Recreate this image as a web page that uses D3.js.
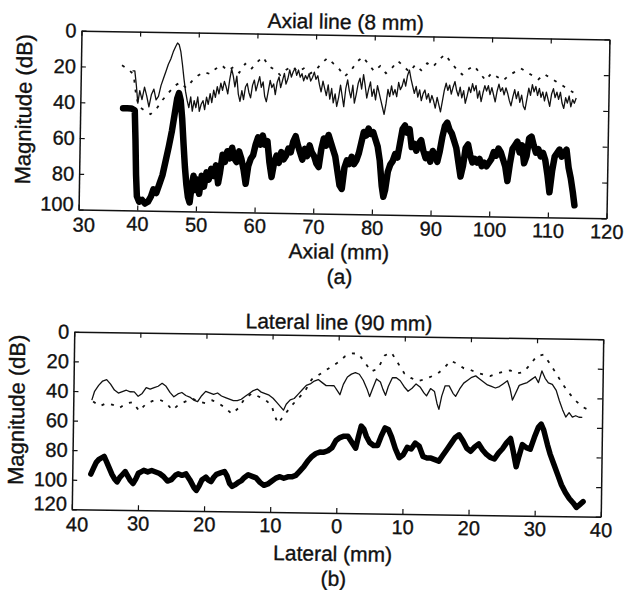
<!DOCTYPE html>
<html>
<head>
<meta charset="utf-8">
<script src="https://d3js.org/d3.v7.min.js"></script>
<title>Axial / lateral line</title>
<style>
  body { margin: 0; background: #fff; }
  text { font-family: "Liberation Sans", Arial, sans-serif; fill: #111; stroke: #111; stroke-width: 0.35px; }
</style>
</head>
<body>
<div id="container"></div>
<script>
// tick values
var axialTicksX = [30, 40, 50, 60, 70, 80, 90, 100, 110, 120];
var axialTicksY = [0, 20, 40, 60, 80, 100];
var lateralTicksX = [-40, -30, -20, -10, 0, 10, 20, 30, 40];
var lateralTicksY = [0, 20, 40, 60, 80, 100, 120];

// (a) axial line, [mm, dB]
var axialThin = [[38.8,22],[39.2,22],[39.5,30],[39.8,40],[40.1,33],[40.5,38],[40.9,31],[41.3,36],[41.7,42],[42.1,35],[42.5,32],[42.9,38],[43.3,36],[43.7,30],[44.1,26],[44.5,22],[44.9,18],[45.3,15],[45.7,11],[46.1,8],[46.4,6],[46.7,7],[47,11],[47.3,18],[47.6,26],[47.9,33],[48.2,38],[48.5,42],[48.8,36],[49.1,44],[49.4,38],[49.7,42],[50,36],[50.3,44],[50.6,40],[50.9,38],[51.2,43],[51.5,36],[51.8,40],[52.1,34],[52.4,39],[52.7,32],[53,36],[53.3,30],[53.6,34],[53.9,28],[54.2,32],[54.5,27],[54.8,30],[55.1,34],[55.4,26],[55.7,20],[56,24],[56.3,30],[56.6,24],[56.9,34],[57.2,38],[57.5,32],[57.8,37],[58.1,30],[58.4,28],[58.7,33],[59,36],[59.3,29],[59.6,26],[59.9,32],[60.2,28],[60.5,24],[60.8,30],[61.1,27],[61.4,35],[61.7,38],[62,32],[62.3,26],[62.6,30],[62.9,28],[63.2,34],[63.5,27],[63.8,24],[64.1,30],[64.4,26],[64.7,22],[65,28],[65.3,25],[65.6,20],[65.9,24],[66.2,21],[66.5,19],[66.8,23],[67.1,20],[67.4,24],[67.7,22],[68,26],[68.3,23],[68.6,25],[68.9,22],[69.2,26],[69.5,24],[69.8,21],[70.1,25],[70.4,23],[70.7,28],[71,32],[71.3,26],[71.6,30],[71.9,34],[72.2,28],[72.5,36],[72.8,30],[73.1,38],[73.4,33],[73.7,40],[74,35],[74.3,28],[74.6,34],[74.9,40],[75.2,30],[75.5,25],[75.8,31],[76.1,35],[76.4,28],[76.7,38],[77,33],[77.3,27],[77.6,24],[77.9,30],[78.2,22],[78.5,28],[78.8,35],[79.1,30],[79.4,26],[79.7,34],[80,30],[80.3,36],[80.6,28],[80.9,32],[81.2,36],[81.5,40],[81.8,44],[82.1,38],[82.4,30],[82.7,34],[83,28],[83.3,33],[83.6,30],[83.9,34],[84.2,26],[84.5,30],[84.8,28],[85.1,24],[85.4,28],[85.7,22],[86,19],[86.3,24],[86.6,28],[86.9,32],[87.2,28],[87.5,34],[87.8,30],[88.1,36],[88.4,32],[88.7,30],[89,35],[89.3,32],[89.6,37],[89.9,33],[90.2,36],[90.5,40],[90.8,34],[91.1,38],[91.4,42],[91.7,36],[92,30],[92.3,26],[92.6,30],[92.9,27],[93.2,32],[93.5,28],[93.8,25],[94.1,30],[94.4,33],[94.7,28],[95,34],[95.3,30],[95.6,37],[95.9,33],[96.2,28],[96.5,31],[96.8,26],[97.1,30],[97.4,27],[97.7,34],[98,30],[98.3,36],[98.6,31],[98.9,27],[99.2,30],[99.5,27],[99.8,32],[100.1,28],[100.4,32],[100.7,36],[101,30],[101.3,26],[101.6,30],[101.9,28],[102.2,32],[102.5,28],[102.8,31],[103.1,35],[103.4,38],[103.7,33],[104,29],[104.3,34],[104.6,30],[104.9,36],[105.2,32],[105.5,38],[105.8,40],[106.1,34],[106.4,28],[106.7,32],[107,26],[107.3,30],[107.6,27],[107.9,32],[108.2,28],[108.5,33],[108.8,30],[109.1,35],[109.4,30],[109.7,34],[110,38],[110.3,31],[110.6,28],[110.9,33],[111.2,30],[111.5,34],[111.8,30],[112.1,36],[112.4,39],[112.7,33],[113,36],[113.3,32],[113.6,38],[113.9,34],[114.2,36],[114.5,33]];
var axialDotted = [[37,19],[38,21],[39,24],[39.5,36],[40,42],[41,44],[42,46],[43,43],[44,38],[45,34],[46,30],[47,28],[48,31],[49,27],[50,24],[51,22],[52,23],[53,20],[54,18],[55,21],[56,19],[57,22],[58,17],[59,20],[60,16],[61,13],[62,18],[63,20],[64,23],[65,20],[66,18],[67,21],[68,19],[69,22],[70,20],[71,16],[72,13],[73,16],[74,19],[75,23],[76,20],[77,15],[78,12],[79,16],[80,20],[81,17],[82,21],[83,18],[84,14],[85,17],[86,20],[87,16],[88,19],[89,15],[90,17],[91,13],[92,10],[93,14],[94,18],[95,21],[96,18],[97,16],[98,20],[99,24],[100,20],[101,22],[102,24],[103,21],[104,19],[105,17],[106,19],[107,21],[108,23],[109,20],[110,22],[111,24],[112,26],[113,28],[114,30]];
var axialBold = [[37.3,43],[38,43],[38.7,43],[39.3,44],[39.5,60],[39.7,80],[39.9,92],[40.3,95],[40.8,94],[41.3,96],[41.8,95],[42.3,92],[42.7,88],[43.2,90],[43.7,85],[44.2,80],[44.7,72],[45.2,64],[45.7,55],[46.1,46],[46.5,37],[46.8,34],[47.1,38],[47.4,48],[47.7,62],[48,75],[48.3,85],[48.6,92],[48.9,95],[49.2,86],[49.5,80],[49.8,88],[50.1,82],[50.5,90],[50.9,80],[51.3,86],[51.7,78],[52.1,82],[52.5,76],[52.9,80],[53.3,74],[53.7,84],[54,78],[54.4,68],[54.8,72],[55.2,66],[55.6,70],[56,64],[56.4,70],[56.8,72],[57.2,66],[57.6,70],[58,76],[58.4,84],[58.8,74],[59.2,70],[59.6,68],[60,62],[60.4,58],[60.8,62],[61.2,57],[61.6,62],[62,60],[62.4,72],[62.8,80],[63.2,72],[63.6,68],[64,72],[64.4,66],[64.8,70],[65.2,68],[65.6,64],[66,66],[66.4,60],[66.8,57],[67.2,62],[67.6,66],[68,70],[68.4,64],[68.8,68],[69.2,62],[69.6,66],[70,68],[70.4,72],[70.8,74],[71.2,64],[71.6,58],[72,62],[72.4,56],[72.8,60],[73.2,64],[73.6,68],[74,76],[74.4,84],[74.8,86],[75.2,74],[75.6,70],[76,72],[76.4,68],[76.8,72],[77.2,70],[77.6,66],[78,60],[78.4,54],[78.8,56],[79.2,52],[79.6,55],[80,54],[80.4,58],[80.8,62],[81.2,70],[81.6,84],[81.9,90],[82.2,86],[82.6,76],[83,72],[83.4,70],[83.8,66],[84.2,68],[84.6,60],[85,52],[85.4,50],[85.8,54],[86.2,52],[86.6,62],[87,60],[87.4,64],[87.8,60],[88.2,58],[88.6,64],[89,68],[89.4,66],[89.8,70],[90.2,64],[90.6,66],[91,70],[91.4,64],[91.8,56],[92.2,50],[92.6,48],[93,52],[93.4,54],[93.8,58],[94.2,62],[94.6,70],[95,78],[95.4,72],[95.8,62],[96.2,60],[96.6,66],[97,70],[97.4,68],[97.8,70],[98.2,68],[98.6,72],[99,70],[99.4,72],[99.8,70],[100.2,68],[100.6,64],[101,66],[101.4,62],[101.8,64],[102.2,68],[102.6,72],[103,80],[103.4,70],[103.8,62],[104.2,60],[104.6,58],[105,64],[105.4,60],[105.8,70],[106.2,66],[106.6,56],[107,55],[107.4,60],[107.8,64],[108.2,62],[108.6,66],[109,64],[109.4,68],[109.8,76],[110.2,86],[110.6,74],[111,66],[111.4,64],[111.8,62],[112.2,66],[112.6,64],[113,62],[113.4,72],[113.8,78],[114.2,86],[114.5,93]];

// (b) lateral line, [mm, dB]
var lateralThin = [[-37.2,46],[-36.8,40],[-36.2,36],[-35.6,33],[-35,32],[-34.4,35],[-33.8,39],[-33.2,41],[-32.6,40],[-32,39],[-31.4,40],[-30.8,40],[-30.2,43],[-29.6,41],[-29,37],[-28.4,38],[-27.8,37],[-27.2,36],[-26.6,34],[-26,36],[-25.4,40],[-24.8,43],[-24.2,41],[-23.6,40],[-23,42],[-22.4,43],[-21.8,45],[-21.2,46],[-20.6,42],[-20,39],[-19.4,40],[-18.8,41],[-18.2,40],[-17.6,42],[-17,43],[-16.4,44],[-15.8,45],[-15.2,45],[-14.6,44],[-14,42],[-13.4,40],[-12.8,38],[-12.2,37],[-11.6,39],[-11,40],[-10.4,41],[-9.8,43],[-9.2,46],[-8.6,49],[-8.2,51],[-7.8,47],[-7.2,44],[-6.6,43],[-6,40],[-5.4,37],[-4.8,34],[-4.2,33],[-3.6,31],[-3,30],[-2.4,32],[-1.8,34],[-1.2,34],[-0.6,34],[0,38],[0.3,40],[0.8,33],[1.4,28],[2,26],[2.6,25],[3.2,26],[3.8,30],[4.4,36],[4.8,41],[5.2,36],[5.8,29],[6.4,31],[6.8,36],[7.2,40],[7.6,34],[8.2,28],[8.8,28],[9.4,30],[10,34],[10.6,37],[11.2,35],[11.8,32],[12.4,34],[13,38],[13.4,40],[14,35],[14.6,37],[15,45],[15.3,49],[15.7,40],[16.2,33],[16.8,33],[17.4,38],[17.8,40],[18.4,35],[19,31],[19.6,29],[20.2,27],[20.8,26],[21.4,28],[22,30],[22.6,32],[23.2,33],[23.8,34],[24.4,33],[25,31],[25.6,29],[26,34],[26.4,42],[26.8,38],[27.4,32],[28,31],[28.6,30],[29.2,28],[29.8,26],[30.3,30],[30.8,22],[31.3,27],[31.8,30],[32.4,31],[33,35],[33.5,42],[34,48],[34.5,53],[35,50],[35.5,53],[36,52],[36.5,53],[37,53]];
var lateralDotted = [[-37,47],[-36,50],[-35,48],[-34,49],[-33,51],[-32,48],[-31,47],[-30,53],[-29,48],[-28,46],[-27,45],[-26,47],[-25,52],[-24,48],[-23,46],[-22,44],[-21,46],[-20,47],[-19,45],[-18,47],[-17,50],[-16,54],[-15,50],[-14,43],[-13,40],[-12,42],[-11,44],[-10,48],[-9.5,55],[-9,60],[-8.5,57],[-8,54],[-7,48],[-6,43],[-5,38],[-4,30],[-3,27],[-2,24],[-1,21],[0,18],[1,14],[2,12],[3,12],[4,18],[5,24],[6,22],[7,13],[8,11],[9,18],[10,25],[11,28],[12,30],[13,29],[14,27],[15,25],[16,21],[17,16],[18,18],[19,21],[20,22],[21,24],[22,25],[23,26],[24,24],[25,23],[26,22],[27,24],[28,23],[29,18],[30,12],[31,11],[32,17],[33,24],[34,31],[35,37],[36,42],[37,46],[38,48]];
var lateralBold = [[-37.2,96],[-36.8,92],[-36.4,88],[-36,86],[-35.6,85],[-35.2,84],[-34.8,88],[-34.4,92],[-34,96],[-33.6,99],[-33.2,101],[-32.8,98],[-32.4,96],[-32,94],[-31.6,97],[-31.2,100],[-30.8,102],[-30.4,99],[-30,95],[-29.6,94],[-29.2,93],[-28.6,94],[-28,93],[-27.4,94],[-26.8,95],[-26.2,97],[-25.6,100],[-25,99],[-24.4,96],[-24,95],[-23.4,96],[-22.8,95],[-22.2,99],[-21.6,104],[-21.2,106],[-20.8,103],[-20.4,99],[-19.8,97],[-19.4,99],[-19,100],[-18.6,97],[-18.2,95],[-17.6,94],[-17,93],[-16.6,96],[-16.2,101],[-15.8,103],[-15.4,102],[-14.8,100],[-14.4,99],[-14,97],[-13.4,95],[-12.8,96],[-12.2,97],[-11.6,100],[-11,102],[-10.4,101],[-9.8,99],[-9.2,97],[-8.6,96],[-8,97],[-7.4,96],[-6.8,96],[-6.2,95],[-5.6,92],[-5,89],[-4.4,85],[-3.8,82],[-3.2,80],[-2.6,79],[-2,79],[-1.4,78],[-0.8,76],[-0.2,71],[0.4,69],[1,68],[1.6,68],[2.2,72],[2.8,76],[3.2,68],[3.6,61],[4,63],[4.4,68],[4.9,72],[5.5,74],[6.1,74],[6.6,68],[7.2,62],[7.7,63],[8.2,68],[8.8,76],[9.4,82],[10,80],[10.6,75],[11.2,76],[11.8,72],[12.4,74],[13,81],[13.6,82],[14.2,82],[14.8,83],[15.4,84],[16,80],[16.6,76],[17.2,72],[17.8,68],[18.4,66],[19,70],[19.6,75],[20.2,77],[20.8,74],[21.4,72],[22,76],[22.6,79],[23.2,81],[23.8,82],[24.4,78],[25,75],[25.6,71],[26.2,68],[26.6,76],[27.1,87],[27.5,80],[28,72],[28.6,74],[29.2,75],[29.8,67],[30.4,60],[30.8,58],[31.2,62],[31.8,72],[32.2,78],[32.8,85],[33.4,92],[34,99],[34.6,104],[35.2,108],[35.8,111],[36.3,114],[36.8,112],[37.3,110]];

var svg_width = 627, svg_height = 590;

var svg = d3.select("#container")
  .append("svg")
  .attr("width", svg_width)
  .attr("height", svg_height);

function drawPanel(p) {
  var cx = p.left + p.width / 2, cy = p.top + p.height / 2;
  // the scan is slightly tilted
  var g = svg.append("g").attr("transform", `rotate(${p.angle},${cx},${cy})`);

  var x = d3.scaleLinear().domain(d3.extent(p.xTicks)).range([p.left, p.left + p.width]);
  var y = d3.scaleLinear().domain(d3.extent(p.yTicks)).range([p.top, p.top + p.height]);

  var line = d3.line().x(d => x(d[0])).y(d => y(d[1]));

  g.append("path").datum(p.dotted)
    .attr("d", line).attr("fill", "none").attr("stroke", "#111")
    .attr("stroke-width", 1.8).attr("stroke-dasharray", "3,7");
  g.append("path").datum(p.thin)
    .attr("d", line).attr("fill", "none").attr("stroke", "#111")
    .attr("stroke-width", 1.3).attr("stroke-linejoin", "round");
  g.append("path").datum(p.bold)
    .attr("d", line).attr("fill", "none").attr("stroke", "#000")
    .attr("stroke-width", p.boldWidth).attr("stroke-linejoin", "round").attr("stroke-linecap", "round");

  // box with inward ticks on all sides
  var fmt = p.xFormat || d3.format("d");
  var axes = [
    [d3.axisBottom(x).tickValues(p.xTicks).tickFormat(fmt).tickPadding(6), `translate(0,${p.top + p.height})`],
    [d3.axisTop(x).tickValues(p.xTicks).tickFormat(""), `translate(0,${p.top})`],
    [d3.axisLeft(y).tickValues(p.yTicks).tickFormat(d3.format("d")).tickPadding(5), `translate(${p.left},0)`],
    [d3.axisRight(y).tickValues(p.yTicks).tickFormat(""), `translate(${p.left + p.width},0)`]
  ];
  var axisGroups = axes.map(function (a) {
    var ax = g.append("g").attr("transform", a[1])
      .call(a[0].tickSizeInner(-5).tickSizeOuter(0));
    ax.attr("font-family", null).attr("font-size", 20);
    ax.select(".domain").attr("stroke", "#111").attr("stroke-width", 1.5);
    ax.selectAll(".tick line").attr("stroke", "#111").attr("stroke-width", 1.2);
    ax.selectAll(".tick text").attr("fill", "#111");
    return ax;
  });
  // corner labels sit tight together in the original; keep them apart
  var xMin = d3.min(p.xTicks), yMax = d3.max(p.yTicks);
  axisGroups[0].selectAll(".tick text").filter(d => d === xMin).attr("dx", 5).attr("dy", "0.8em");
  axisGroups[2].selectAll(".tick text").filter(d => d === yMax).attr("dy", "0.05em");

  g.append("text").attr("x", cx).attr("y", p.top - 6)
    .attr("text-anchor", "middle").attr("font-size", 21).text(p.title);
  g.append("text").attr("x", cx - 3).attr("y", p.top + p.height + p.xLabelGap)
    .attr("text-anchor", "middle").attr("font-size", 21).text(p.xLabel);
  g.append("text").attr("x", cx - 2).attr("y", p.top + p.height + p.xLabelGap + 25)
    .attr("text-anchor", "middle").attr("font-size", 21).text(p.tag);
  g.append("text")
    .attr("transform", `translate(${p.left - 49},${cy - 10}) rotate(-90)`)
    .attr("text-anchor", "middle").attr("font-size", 22).text("Magnitude (dB)");
}

drawPanel({
  left: 80, top: 35, width: 528, height: 179, angle: 0.95, boldWidth: 6.5,
  xTicks: axialTicksX, yTicks: axialTicksY,
  thin: axialThin, dotted: axialDotted, bold: axialBold,
  title: "Axial line (8 mm)", xLabel: "Axial (mm)", tag: "(a)", xLabelGap: 45
});

drawPanel({
  left: 73, top: 335.5, width: 529, height: 177.5, angle: 0.8, boldWidth: 5.5,
  xTicks: lateralTicksX, yTicks: lateralTicksY,
  thin: lateralThin, dotted: lateralDotted, bold: lateralBold,
  xFormat: d => Math.abs(d),
  title: "Lateral line (90 mm)", xLabel: "Lateral (mm)", tag: "(b)", xLabelGap: 48
});
</script>
</body>
</html>
